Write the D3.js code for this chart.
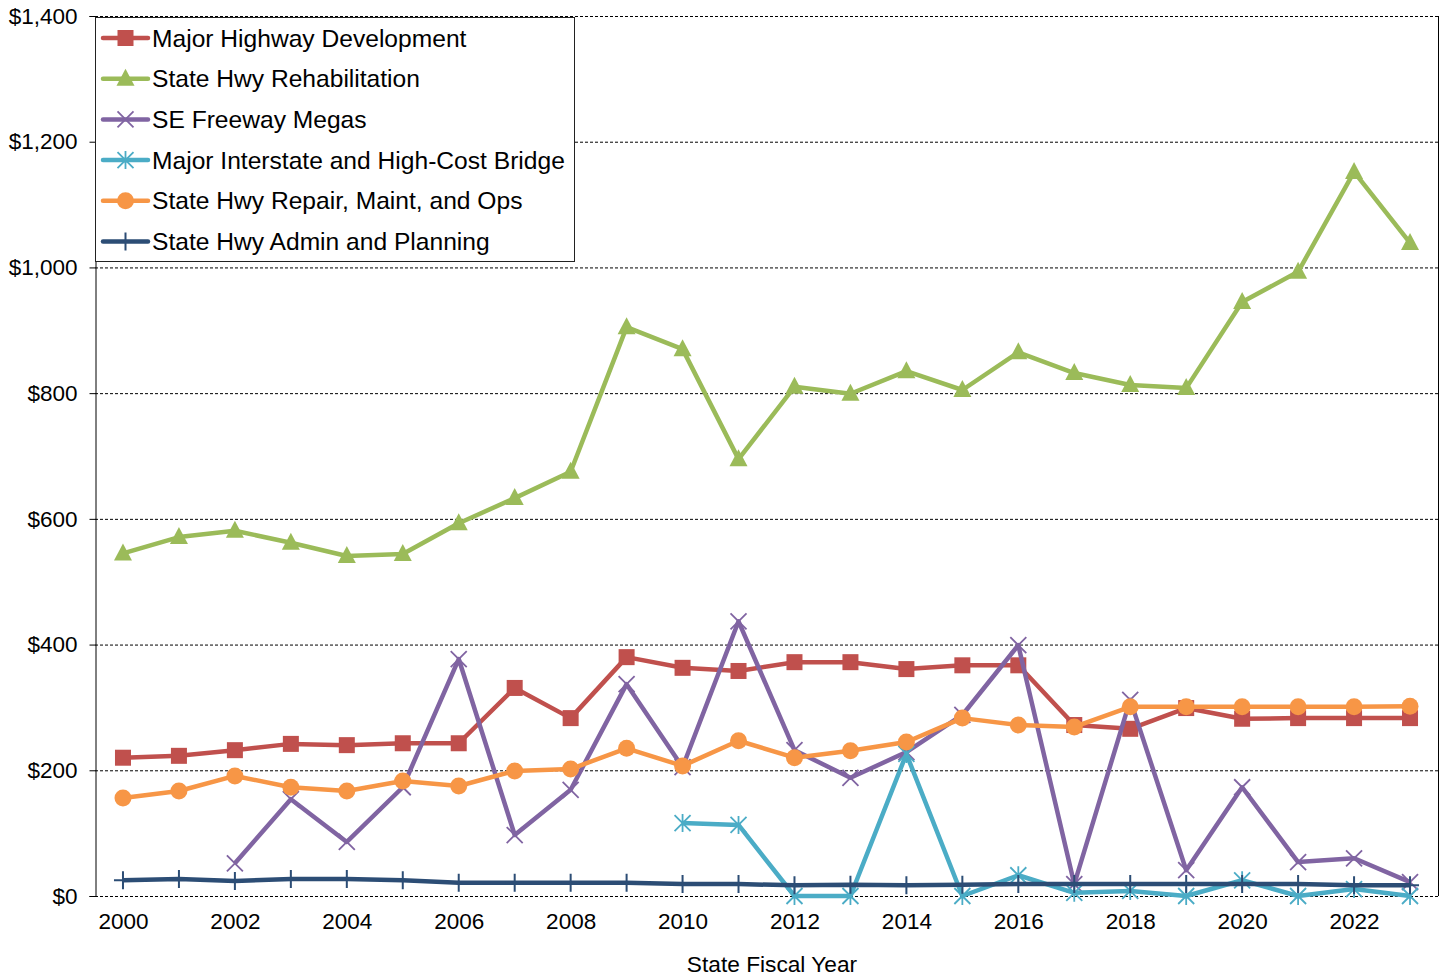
<!DOCTYPE html>
<html><head><meta charset="utf-8">
<script src="https://cdn.jsdelivr.net/npm/d3@7"></script>
<style>body{margin:0;background:#fff;} text{font-family:"Liberation Sans",Arial,sans-serif;}</style>
</head><body>
<svg id="chart" width="1445" height="979"></svg>
<script>
const years = d3.range(2000, 2024);
const majorHighwayDev = [220,223,232,242,240,243,243,331,283,380,363,358,372,372,361,367,367,272,266,299,282,283,283,283];
const stateHwyRehab = [545,571,581,562,541,544,593,633,675,905,870,695,810,799,835,805,865,832,813,808,945,993,1152,1039];
const seFreewayMegas = [null,null,52,154,86,173,377,97,169,337,205,437,232,188,229,288,399,19,312,41,173,54,60,22];
const majorInterstate = [null,null,null,null,null,null,null,null,null,null,116,113,0,0,226,0,33,5,8,0,25,0,11,0];
const repairMaint = [156,167,191,173,167,183,175,199,202,235,207,247,220,231,245,283,272,269,301,301,301,301,301,302];
const adminPlanning = [25,27,24,27,27,25,21,21,21,21,19,19,17,18,17,18,19,19,19,19,19,19,17,17];
const yTicks = [0,200,400,600,800,1000,1200,1400];
const xTicks = [2000,2002,2004,2006,2008,2010,2012,2014,2016,2018,2020,2022];

const series = [
  {name:"Major Highway Development", values:majorHighwayDev, color:"#C0504D", marker:"square"},
  {name:"State Hwy Rehabilitation", values:stateHwyRehab, color:"#9BBB59", marker:"triangle"},
  {name:"SE Freeway Megas", values:seFreewayMegas, color:"#8064A2", marker:"x"},
  {name:"Major Interstate and High-Cost Bridge", values:majorInterstate, color:"#4BACC6", marker:"star"},
  {name:"State Hwy Repair, Maint, and Ops", values:repairMaint, color:"#F79646", marker:"circle"},
  {name:"State Hwy Admin and Planning", values:adminPlanning, color:"#2C4D75", marker:"plus"}
];

const L=95, R=1438, T=16, B=896;
const svg = d3.select("#chart");
const x = d3.scaleLinear().domain([1999.5, 2023.5]).range([L, R]);
const y = d3.scaleLinear().domain([0, 1400]).range([B, T]);

// gridlines
svg.append("g").selectAll("line").data(yTicks).join("line")
  .attr("x1", L).attr("x2", R).attr("y1", d=>y(d)+0.5).attr("y2", d=>y(d)+0.5)
  .attr("stroke", "#000").attr("stroke-width", 1).attr("stroke-dasharray", "3,2");
// right border
svg.append("line").attr("x1", R+0.5).attr("x2", R+0.5).attr("y1", T).attr("y2", B)
  .attr("stroke", "#000").attr("stroke-width", 1);

// y axis
const yAxis = d3.axisLeft(y).tickValues(yTicks).tickSize(6).tickPadding(12)
  .tickFormat(d => "$" + d3.format(",")(d));
const gy = svg.append("g").attr("transform", `translate(${L+0.5},0)`).call(yAxis);
gy.select(".domain").attr("stroke", "#000");
gy.selectAll("text").attr("font-size", 22.5).attr("fill", "#000").attr("font-family", "Liberation Sans, Arial, sans-serif");

// x axis
const xAxis = d3.axisBottom(x).tickValues(xTicks).tickSize(0).tickPadding(17).tickFormat(d3.format("d"));
const gx = svg.append("g").attr("transform", `translate(0,${B})`).call(xAxis);
gx.select(".domain").remove();
gx.selectAll("text").attr("font-size", 22.5).attr("fill", "#000").attr("font-family", "Liberation Sans, Arial, sans-serif");

svg.append("text").attr("x", 772).attr("y", 972).attr("text-anchor", "middle")
  .attr("font-size", 22.7).text("State Fiscal Year");

function drawMarker(g, type, color, cx, cy) {
  if (type === "square") {
    g.append("rect").attr("x", cx-8).attr("y", cy-8).attr("width", 16).attr("height", 16).attr("fill", color);
  } else if (type === "triangle") {
    g.append("path").attr("d", `M${cx},${cy-10}L${cx+9},${cy+7}L${cx-9},${cy+7}Z`).attr("fill", color);
  } else if (type === "circle") {
    g.append("circle").attr("cx", cx).attr("cy", cy).attr("r", 8.5).attr("fill", color);
  } else if (type === "x") {
    g.append("path").attr("d", `M${cx-8},${cy-8}L${cx+8},${cy+8}M${cx-8},${cy+8}L${cx+8},${cy-8}`)
      .attr("stroke", color).attr("stroke-width", 1.8).attr("fill", "none");
  } else if (type === "star") {
    g.append("path").attr("d", `M${cx-8},${cy-8}L${cx+8},${cy+8}M${cx-8},${cy+8}L${cx+8},${cy-8}M${cx},${cy-9}L${cx},${cy+9}`)
      .attr("stroke", color).attr("stroke-width", 1.8).attr("fill", "none");
  } else if (type === "plus") {
    g.append("path").attr("d", `M${cx},${cy-9}L${cx},${cy+9}M${cx-9},${cy}L${cx+9},${cy}`)
      .attr("stroke", color).attr("stroke-width", 2).attr("fill", "none");
  }
}

const line = d3.line().defined(d => d.v !== null).x(d => x(d.yr)).y(d => y(d.v));
series.forEach(s => {
  const pts = years.map((yr,i) => ({yr, v: s.values[i]}));
  const g = svg.append("g");
  g.append("path").datum(pts).attr("d", line).attr("fill", "none")
    .attr("stroke", s.color).attr("stroke-width", 4.5).attr("stroke-linejoin", "round");
  pts.filter(p => p.v !== null).forEach(p => drawMarker(g, s.marker, s.color, x(p.yr), y(p.v)));
});

// legend
const lg = svg.append("g");
lg.append("rect").attr("x", 95.5).attr("y", 17.5).attr("width", 479).attr("height", 244)
  .attr("fill", "#fff").attr("stroke", "#222").attr("stroke-width", 1);
series.forEach((s, i) => {
  const cy = 38 + i*40.7;
  lg.append("line").attr("x1", 103).attr("x2", 148).attr("y1", cy).attr("y2", cy)
    .attr("stroke", s.color).attr("stroke-width", 4.5).attr("stroke-linecap", "round");
  drawMarker(lg, s.marker, s.color, 125.5, cy);
  lg.append("text").attr("x", 152).attr("y", cy + 8.5).attr("font-size", 24.6).attr("fill", "#000").text(s.name);
});
</script>
</body></html>
